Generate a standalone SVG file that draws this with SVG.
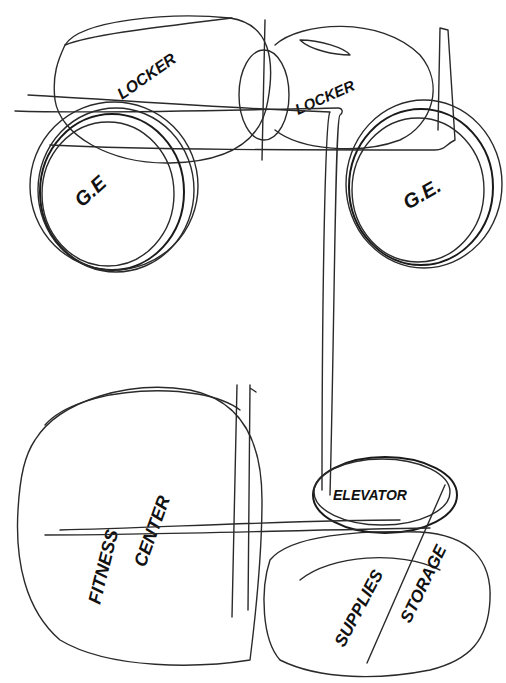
<svg xmlns="http://www.w3.org/2000/svg" width="506" height="683" viewBox="0 0 506 683">
<style>
.s{fill:none;stroke:#2a2a2a;stroke-width:1.4;stroke-linecap:round;stroke-linejoin:round}
.b{fill:none;stroke:#1a1a1a;stroke-width:2;stroke-linecap:round}
.t{font-family:"Liberation Sans",Arial,sans-serif;font-weight:bold;fill:#111;font-style:italic}
</style>
<rect width="506" height="683" fill="#fff"/>
<g id="locker-left">
<path class="s" d="M65 45 C80 20 170 12 230 18 C270 24 275 60 268 100 C262 140 230 162 170 163 C110 164 60 135 55 100 C52 75 58 60 65 45 Z"/>
<path class="s" d="M65 45 C90 35 150 28 232 18"/>
<text class="t" font-size="16" transform="translate(122 100) rotate(-35)">LOCKER</text>
</g>
<g id="ge-left">
<ellipse class="b" cx="112" cy="192" rx="72" ry="78"/>
<ellipse class="s" cx="116" cy="190" rx="78" ry="82"/>
<ellipse class="s" cx="108" cy="194" rx="66" ry="72"/>
<ellipse class="s" cx="114" cy="186" rx="84" ry="84"/>
<text class="t" font-size="20" transform="translate(82 208) rotate(-42)">G.E</text>
</g>
<g id="locker-mid">
<ellipse class="s" cx="264" cy="95" rx="25" ry="45"/>
<path class="s" d="M275 45 C300 22 380 15 420 55 C445 85 432 125 400 140 C360 155 300 150 275 130"/>
<path class="s" d="M300 40 C320 40 345 48 350 55 C335 55 310 50 300 40"/>
<text class="t" font-size="15" transform="translate(298 115) rotate(-24)">LOCKER</text>
</g>
<g id="ge-right">
<ellipse class="b" cx="421" cy="187" rx="72" ry="78"/>
<ellipse class="s" cx="424" cy="184" rx="78" ry="84"/>
<ellipse class="s" cx="418" cy="190" rx="66" ry="72"/>
<text class="t" font-size="20" transform="translate(408 210) rotate(-30)">G.E.</text>
</g>
<g id="fitness-center">
<path class="s" d="M35 440 C60 400 130 380 190 390 C240 400 262 440 262 500 C262 560 255 620 250 660 C200 668 110 670 60 640 C25 610 15 560 18 510 C20 475 25 455 35 440 Z"/>
<path class="s" d="M45 425 C80 385 200 380 240 410"/>
<text class="t" font-size="18" transform="translate(100 605) rotate(-76)">FITNESS</text>
<text class="t" font-size="18" transform="translate(145 568) rotate(-70)">CENTER</text>
</g>
<g id="elevator">
<ellipse class="b" cx="385" cy="495" rx="72" ry="38"/>
<ellipse class="s" cx="382" cy="492" rx="68" ry="33"/>
<text class="t" x="333" y="500" font-size="14">ELEVATOR</text>
</g>
<g id="supplies-storage">
<path class="s" d="M270 560 C290 535 360 530 420 532 C470 535 492 560 490 600 C488 640 470 660 430 670 C380 680 320 680 280 660 C262 640 260 590 270 560 Z"/>
<path class="s" d="M300 580 C330 555 400 550 440 570"/>
<text class="t" font-size="17" transform="translate(344 648) rotate(-62)">SUPPLIES</text>
<text class="t" font-size="17" transform="translate(410 624) rotate(-64)">STORAGE</text>
</g>
<g id="connectors">
<path class="s" d="M15 111 C100 114 230 110 338 108 C342 108 344 112 340 115 C335 118 335 300 330 495"/>
<path class="s" d="M28 95 C120 100 220 108 330 112 C325 118 322 300 322 490"/>
<path class="s" d="M50 145 C150 150 300 150 435 150 C445 150 445 145 455 140 L448 30 L440 28 L438 130"/>
<path class="s" d="M265 20 L262 160"/>
<path class="s" d="M45 535 C150 535 300 530 430 528"/>
<path class="s" d="M60 530 C150 528 300 520 400 520"/>
<path class="s" d="M237 385 L232 617"/>
<path class="s" d="M250 385 L248 610 M250 388 L256 392"/>
<path class="s" d="M445 485 L367 663"/>
</g>
</svg>
